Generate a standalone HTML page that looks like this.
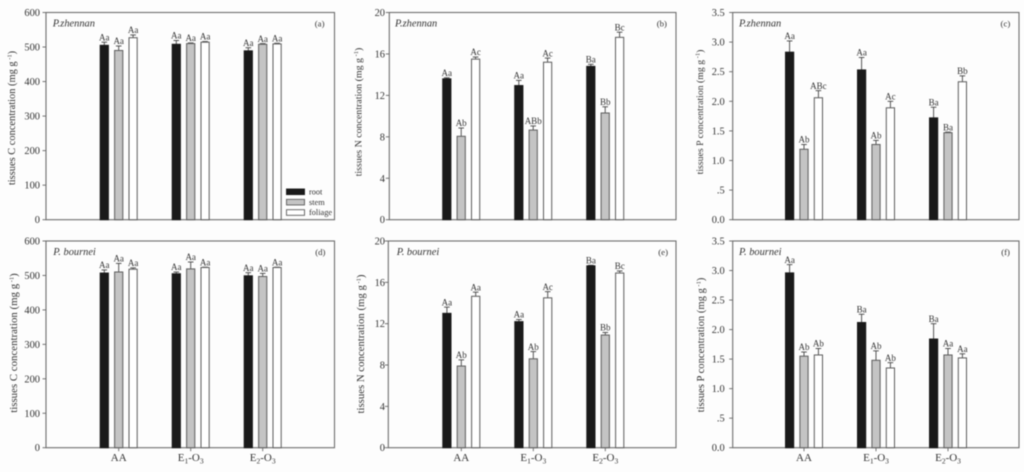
<!DOCTYPE html>
<html>
<head>
<meta charset="utf-8">
<style>
html,body{margin:0;padding:0;background:#fdfdfd;width:1024px;height:472px;overflow:hidden}
svg{display:block;filter:blur(.4px)}
text{font-family:"Liberation Serif",serif;fill:#333}
</style>
</head>
<body>
<svg id="figure" xmlns="http://www.w3.org/2000/svg" width="1024" height="472" viewBox="0 0 1024 472"></svg>
<script>
const categories = ['AA', 'E1-O3', 'E2-O3'];
const seriesNames = ['root', 'stem', 'foliage'];

const ticksCarbon = ['0', '100', '200', '300', '400', '500', '600'];
const ticksNitrogen = ['0', '4', '8', '12', '16', '20'];
const ticksPhosphorus = ['0.0', '.5', '1.0', '1.5', '2.0', '2.5', '3.0', '3.5'];

const aRoot = [505, 508, 489];
const aStem = [490, 510, 508];
const aFoliage = [527, 514, 509];
const aRootErr = [9, 11, 9];
const aStemErr = [13, 2, 2];
const aFoliageErr = [8, 2, 2];
const aRootSig = ['Aa', 'Aa', 'Aa'];
const aStemSig = ['Aa', 'Aa', 'Aa'];
const aFoliageSig = ['Aa', 'Aa', 'Aa'];

const bRoot = [13.6, 12.95, 14.8];
const bStem = [8.05, 8.65, 10.3];
const bFoliage = [15.5, 15.2, 17.6];
const bRootErr = [0.1, 0.5, 0.2];
const bStemErr = [0.8, 0.4, 0.6];
const bFoliageErr = [0.2, 0.4, 0.5];
const bRootSig = ['Aa', 'Aa', 'Ba'];
const bStemSig = ['Ab', 'ABb', 'Bb'];
const bFoliageSig = ['Ac', 'Ac', 'Bc'];

const cRoot = [2.83, 2.53, 1.72];
const cStem = [1.19, 1.27, 1.47];
const cFoliage = [2.06, 1.89, 2.33];
const cRootErr = [0.19, 0.21, 0.18];
const cStemErr = [0.08, 0.07, 0.01];
const cFoliageErr = [0.12, 0.11, 0.1];
const cRootSig = ['Aa', 'Aa', 'Ba'];
const cStemSig = ['Ab', 'Ab', 'Ba'];
const cFoliageSig = ['ABc', 'Ac', 'Bb'];

const dRoot = [507, 505, 499];
const dStem = [510, 519, 497];
const dFoliage = [518, 523, 523];
const dRootErr = [9, 5, 9];
const dStemErr = [25, 20, 9];
const dFoliageErr = [4, 1, 1];
const dRootSig = ['Aa', 'Aa', 'Aa'];
const dStemSig = ['Aa', 'Aa', 'Aa'];
const dFoliageSig = ['Aa', 'Aa', 'Aa'];

const eRoot = [13, 12.2, 17.6];
const eStem = [7.9, 8.6, 10.9];
const eFoliage = [14.65, 14.5, 16.9];
const eRootErr = [0.6, 0.2, 0.05];
const eStemErr = [0.6, 0.7, 0.25];
const eFoliageErr = [0.4, 0.6, 0.2];
const eRootSig = ['Aa', 'Aa', 'Ba'];
const eStemSig = ['Ab', 'Ab', 'Bb'];
const eFoliageSig = ['Aa', 'Ac', 'Bc'];

const fRoot = [2.96, 2.12, 1.84];
const fStem = [1.55, 1.48, 1.57];
const fFoliage = [1.57, 1.35, 1.52];
const fRootErr = [0.14, 0.14, 0.26];
const fStemErr = [0.07, 0.16, 0.11];
const fFoliageErr = [0.11, 0.09, 0.07];
const fRootSig = ['Aa', 'Ba', 'Ba'];
const fStemSig = ['Ab', 'Ab', 'Aa'];
const fFoliageSig = ['Ab', 'Ab', 'Aa'];

const panels = [
  {id:'a', tag:'(a)', species:'P.zhennan', el:'C', l:46, r:334.5, t:12.5, b:219.7, c:118.7, tickX:40, titleX:15, titleY:118, titleLen:123, tagX:324.5, spX:52.7, max:600, ticks:ticksCarbon,
   vals:[aRoot,aStem,aFoliage], errs:[aRootErr,aStemErr,aFoliageErr], sigs:[aRootSig,aStemSig,aFoliageSig], cats:false, legend:true},
  {id:'b', tag:'(b)', species:'P.zhennan', el:'N', l:389.3, r:676, t:12.5, b:219.7, c:461.2, tickX:385, titleX:361.5, titleY:112, titleLen:117, tagX:667, spX:395, max:20, ticks:ticksNitrogen,
   vals:[bRoot,bStem,bFoliage], errs:[bRootErr,bStemErr,bFoliageErr], sigs:[bRootSig,bStemSig,bFoliageSig], cats:false, legend:false},
  {id:'c', tag:'(c)', species:'P.zhennan', el:'P', l:732.7, r:1019, t:12.5, b:219.7, c:804, tickX:724.7, titleX:703, titleY:112, titleLen:115, tagX:1010.3, spX:739, max:3.5, ticks:ticksPhosphorus,
   vals:[cRoot,cStem,cFoliage], errs:[cRootErr,cStemErr,cFoliageErr], sigs:[cRootSig,cStemSig,cFoliageSig], cats:false, legend:false},
  {id:'d', tag:'(d)', species:'P. bournei', el:'C', l:46, r:334.5, t:241, b:447.7, c:118.7, tickX:40, titleX:17, titleY:343, titleLen:128, tagX:325.5, spX:53.3, max:600, ticks:ticksCarbon,
   vals:[dRoot,dStem,dFoliage], errs:[dRootErr,dStemErr,dFoliageErr], sigs:[dRootSig,dStemSig,dFoliageSig], cats:true, legend:false},
  {id:'e', tag:'(e)', species:'P. bournei', el:'N', l:388.3, r:676, t:241, b:447.7, c:461.3, tickX:385, titleX:364, titleY:344, titleLen:127, tagX:668, spX:396.7, max:20, ticks:ticksNitrogen,
   vals:[eRoot,eStem,eFoliage], errs:[eRootErr,eStemErr,eFoliageErr], sigs:[eRootSig,eStemSig,eFoliageSig], cats:true, legend:false},
  {id:'f', tag:'(f)', species:'P. bournei', el:'P', l:732.7, r:1019, t:241, b:447.7, c:804, tickX:724.7, titleX:704, titleY:345, titleLen:125, tagX:1010, spX:739, max:3.5, ticks:ticksPhosphorus,
   vals:[fRoot,fStem,fFoliage], errs:[fRootErr,fStemErr,fFoliageErr], sigs:[fRootSig,fStemSig,fFoliageSig], cats:true, legend:false}
];

const NS = 'http://www.w3.org/2000/svg';
const figure = document.getElementById('figure');
const barFill = ['#1a1a1a', '#c4c4c4', '#ffffff'];
const barStroke = ['#1a1a1a', '#5c5c5c', '#5c5c5c'];
const groupStep = 72, barOffset = 14.4, barWidth = 8.2;

function mk(tag, parent, attrs, txt) {
  const n = document.createElementNS(NS, tag);
  for (const k in attrs) n.setAttribute(k, attrs[k]);
  if (txt !== undefined) n.textContent = txt;
  parent.appendChild(n);
  return n;
}

panels.forEach(function (p) {
  const g = mk('g', figure, {});
  
  

  const yScale = function (v) { return p.b - (v / p.max) * (p.b - p.t); };
  const xScale = function (i, s) { return p.c + i * groupStep + (s - 1) * barOffset; };

  const frame = mk('rect', g, {x:p.l, y:p.t, width:p.r - p.l, height:p.b - p.t, fill:'none', stroke:'#6e6e6e', 'stroke-width':1.1});
  
  

  p.ticks.forEach(function (label) {
    const value = parseFloat(label);
    const y = yScale(value);
    const tick = mk('line', g, {x1:p.l - 3.5, x2:p.l, y1:y, y2:y, stroke:'#666', 'stroke-width':0.9});
    
    
    const tl = mk('text', g, {x:p.tickX, y:y + 3.5, 'text-anchor':'end', 'font-size':10.4}, label);
    
    
  });

  const title = mk('text', g, {transform:'translate(' + p.titleX + ',' + p.titleY + ') rotate(-90)', 'text-anchor':'middle', 'font-size':(p.titleLen / 11.8).toFixed(2)});
  
  
  mk('tspan', title, {}, 'tissues ' + p.el + ' concentration (mg g');
  mk('tspan', title, {dy:-3.5, 'font-size':6.5}, ' -1');
  mk('tspan', title, {dy:3.5}, ')');

  const sp = mk('text', g, {x:p.spX, y:p.t + 14.2, 'font-size':10.4, 'font-style':'italic'}, p.species);
  
  

  const tag = mk('text', g, {x:p.tagX, y:p.t + 14.2, 'text-anchor':'end', 'font-size':8.8}, p.tag);
  
  

  seriesNames.forEach(function (name, s) {
    categories.forEach(function (cat, i) {
      const cx = xScale(i, s);
      const top = yScale(p.vals[s][i]);
      const errTop = yScale(p.vals[s][i] + p.errs[s][i]);

      const stem = mk('line', g, {x1:cx, x2:cx, y1:top, y2:errTop, stroke:'#444', 'stroke-width':0.9});
      
      
      const cap = mk('line', g, {x1:cx - 2.8, x2:cx + 2.8, y1:errTop, y2:errTop, stroke:'#444', 'stroke-width':0.9});
      
      

      const bar = mk('rect', g, {x:cx - barWidth / 2, y:top, width:barWidth, height:p.b - top, fill:barFill[s], stroke:barStroke[s], 'stroke-width':1});
      
      

      const sig = mk('text', g, {x:cx, y:errTop - 1.8, 'text-anchor':'middle', 'font-size':9}, p.sigs[s][i]);
      
      
    });
  });

  if (p.cats) {
    categories.forEach(function (cat, i) {
      const cx = xScale(i, 1);
      const tick = mk('line', g, {x1:cx, x2:cx, y1:p.b, y2:p.b + 3.5, stroke:'#666', 'stroke-width':0.9});
      
      
      const t = mk('text', g, {x:cx, y:p.b + 13.3, 'text-anchor':'middle', 'font-size':11});
      
      
      cat.split(/(\d)/).forEach(function (part) {
        if (/^\d$/.test(part)) {
          mk('tspan', t, {dy:2.5, 'font-size':7.5}, part);
        } else if (part) {
          const after = t.lastChild && t.lastChild.getAttribute('font-size');
          mk('tspan', t, after ? {dy:-2.5} : {}, part);
        }
      });
    });
  }

  if (p.legend) {
    const lg = mk('g', g, {});
    
    
    seriesNames.forEach(function (name, s) {
      const rowY = 189 + s * 10.35;
      const sw = mk('rect', lg, {x:286.5, y:rowY, width:18, height:5.6, fill:barFill[s], stroke:barStroke[s], 'stroke-width':0.9});
      
      
      const lt = mk('text', lg, {x:309, y:rowY + 5.4, 'font-size':8.3}, name);
      
      
    });
  }
});
</script>
</body>
</html>
